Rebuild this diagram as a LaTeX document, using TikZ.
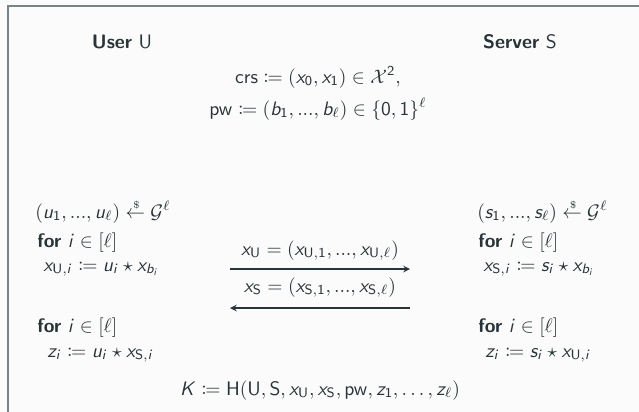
\documentclass[tikz,border=0pt]{standalone}
\usepackage{amsmath,mathtools}
\renewcommand{\familydefault}{\sfdefault}

% sans letters and digits in math
\DeclareSymbolFont{sfletters}{OT1}{cmss}{m}{sl}
\DeclareSymbolFont{sfdigits}{OT1}{cmss}{m}{n}
\makeatletter
\count@=`a
\loop
  \mathcode\count@=\numexpr"7000+\symsfletters*"100+\count@\relax
  \ifnum\count@<`z \advance\count@ 1 \repeat
\count@=`A
\loop
  \mathcode\count@=\numexpr"7000+\symsfletters*"100+\count@\relax
  \ifnum\count@<`Z \advance\count@ 1 \repeat
\count@=`0
\loop
  \mathcode\count@=\numexpr"7000+\symsfdigits*"100+\count@\relax
  \ifnum\count@<`9 \advance\count@ 1 \repeat
\makeatother

\definecolor{ink}{RGB}{40,52,56}
\definecolor{framegray}{RGB}{118,133,138}
\definecolor{paper}{RGB}{251,251,251}

\newcommand{\sample}{\mathrel{\overset{\raisebox{-0.55ex}{$\scriptscriptstyle\,\$$}}{\leftarrow}}}

\tikzset{
  msg/.style={->, draw=ink, line width=0.55pt},
  txt/.style={text=ink, inner sep=0pt}
}

\begin{document}
\begin{tikzpicture}[x=0.0180cm, y=-0.0180cm, >=stealth]
  \useasboundingbox[fill=paper] (0,0) rectangle (639,412);
  \begin{scope}
    \clip (0,0) rectangle (639,412);
    \draw[framegray, line width=1.1pt] (8,6) rectangle (700,480);
  \end{scope}

  % parties and public values
  \node[txt, anchor=base] (user) at (122,48) {\textbf{User} $\mathsf{U}$};
  \node[txt, anchor=base] (server) at (520,48) {\textbf{Server} $\mathsf{S}$};
  \node[txt, anchor=base] (crs) at (318,83) {$\mathsf{crs} \coloneqq (x_0, x_1) \in \mathcal{X}^2,$};
  \node[txt, anchor=base] (pw) at (318,115) {$\mathsf{pw} \coloneqq (b_1, ..., b_\ell) \in \{0,1\}^\ell$};

  % user side
  \node[txt, anchor=base west] (u1) at (35,218) {$(u_1, ..., u_\ell) \sample \mathcal{G}^\ell$};
  \node[txt, anchor=base west] (u2) at (37,247) {\textbf{for} $i \in [\ell]$};
  \node[txt, anchor=base west] (u3) at (43,271) {$x_{\mathsf{U},i} \coloneqq u_i \star x_{b_i}$};
  \node[txt, anchor=base west] (u4) at (37,332) {\textbf{for} $i \in [\ell]$};
  \node[txt, anchor=base west] (u5) at (47,357) {$z_i \coloneqq u_i \star x_{\mathsf{S},i}$};

  % server side
  \node[txt, anchor=base west] (s1) at (477,218) {$(s_1, ..., s_\ell) \sample \mathcal{G}^\ell$};
  \node[txt, anchor=base west] (s2) at (478,247) {\textbf{for} $i \in [\ell]$};
  \node[txt, anchor=base west] (s3) at (483,271) {$x_{\mathsf{S},i} \coloneqq s_i \star x_{b_i}$};
  \node[txt, anchor=base west] (s4) at (478,332) {\textbf{for} $i \in [\ell]$};
  \node[txt, anchor=base west] (s5) at (485,357) {$z_i \coloneqq s_i \star x_{\mathsf{U},i}$};

  % messages
  \node[txt, anchor=base] (mu) at (320,255) {$x_{\mathsf{U}} = (x_{\mathsf{U},1}, ..., x_{\mathsf{U},\ell})$};
  \node[txt, anchor=base] (ms) at (320,292) {$x_{\mathsf{S}} = (x_{\mathsf{S},1}, ..., x_{\mathsf{S},\ell})$};
  \coordinate (ua) at (230,269);
  \coordinate (sa) at (410,269);
  \coordinate (ub) at (230,308);
  \coordinate (sb) at (410,308);
  \draw[msg] (ua) -- (sa);
  \draw[msg] (sb) -- (ub);

  % session key
  \node[txt, anchor=base] (key) at (320,395) {$K \coloneqq \mathsf{H}(\mathsf{U}, \mathsf{S}, x_{\mathsf{U}}, x_{\mathsf{S}}, \mathsf{pw}, z_1, \ldots, z_\ell)$};
\end{tikzpicture}
\end{document}
